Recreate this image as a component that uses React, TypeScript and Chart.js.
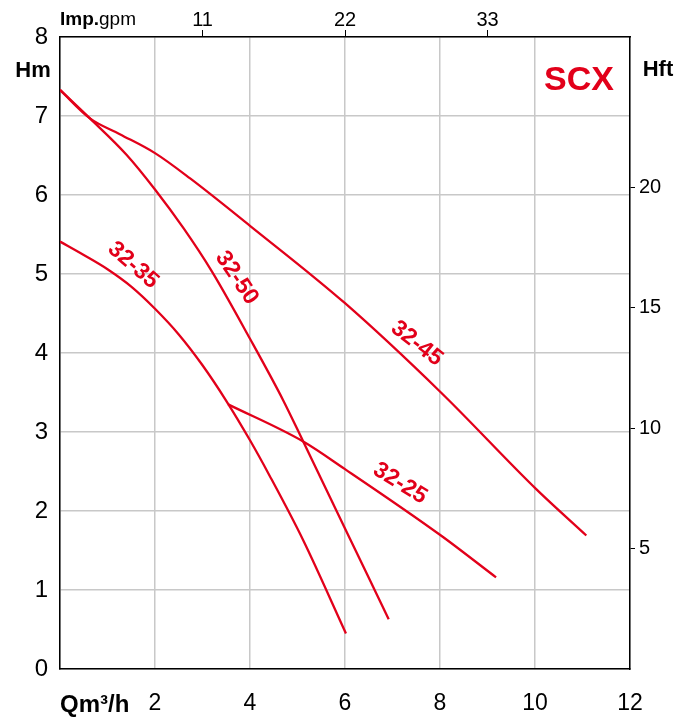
import React, { useEffect, useRef } from "react";
import { Chart, registerables } from "chart.js";

Chart.register(...registerables);

const FLOW_TICKS = [0, 2, 4, 6, 8, 10, 12];
const HEAD_TICKS = [0, 1, 2, 3, 4, 5, 6, 7, 8];
const GPM_TICKS = [11, 22, 33];
const FT_TICKS = [5, 10, 15, 20];
const GPM_PER_M3H = 3.66615;
const FT_PER_M = 3.28084;

const curve3245X = [0, 0.63, 1.26, 2.0, 2.74, 4.0, 6.0, 8.02, 10.02, 11.08];
const curve3245Y = [7.33, 6.97, 6.77, 6.53, 6.21, 5.61, 4.63, 3.5, 2.28, 1.69];

const curve3250X = [0, 0.63, 1.4, 2.0, 2.6, 3.2, 4.0, 4.7, 5.12, 6.0, 6.92];
const curve3250Y = [7.33, 6.97, 6.51, 6.07, 5.58, 5.03, 4.18, 3.4, 2.88, 1.78, 0.63];

const curve3235X = [0, 0.5, 1.0, 1.5, 2.0, 2.5, 3.0, 3.5, 4.0, 4.41, 5.12, 6.02];
const curve3235Y = [5.41, 5.24, 5.06, 4.84, 4.56, 4.235, 3.845, 3.395, 2.895, 2.45, 1.63, 0.45];

const curve3225X = [3.54, 5.12, 6.0, 8.02, 9.18];
const curve3225Y = [3.35, 2.88, 2.53, 1.69, 1.16];

const curveNames = ["32-45", "32-50", "32-35", "32-25"];
const labelX = [7.51, 3.72, 1.54, 7.16];
const labelY = [4.12, 4.95, 5.11, 2.35];
const labelAngle = [38, 56, 41, 32];

const RED = "#e2001a";
const FONT = "'Liberation Sans', Arial, sans-serif";

const toPoints = (xs: number[], ys: number[]) => xs.map((x, i) => ({ x, y: ys[i] }));

const textPlugin = {
  id: "textPlugin",
  afterDraw(chart: any) {
    const ctx = chart.ctx;
    const xs = chart.scales.x;
    const ys = chart.scales.y;
    const area = chart.chartArea;
    ctx.save();
    ctx.fillStyle = "#000";
    ctx.textBaseline = "middle";
    ctx.font = `bold 22px ${FONT}`;
    ctx.textAlign = "center";
    ctx.fillText("Hm", area.left - 27, 71);
    ctx.fillText("Hft", area.right + 28, 70);
    ctx.textBaseline = "alphabetic";
    ctx.textAlign = "left";
    ctx.font = `bold 19px ${FONT}`;
    ctx.fillText("Imp.", area.left, 25);
    const w = ctx.measureText("Imp.").width;
    ctx.font = `19px ${FONT}`;
    ctx.fillText("gpm", area.left + w, 25);
    ctx.font = `bold 24px ${FONT}`;
    ctx.fillText("Qm\u00b3/h", area.left, 712);
    ctx.fillStyle = RED;
    ctx.textAlign = "center";
    ctx.textBaseline = "middle";
    ctx.font = `bold 34px ${FONT}`;
    ctx.fillText("SCX", 579, 81);
    ctx.font = `bold 23px ${FONT}`;
    curveNames.forEach((name, i) => {
      const px = xs.getPixelForValue(labelX[i]);
      const py = ys.getPixelForValue(labelY[i]);
      ctx.save();
      ctx.translate(px, py);
      ctx.rotate((labelAngle[i] * Math.PI) / 180);
      ctx.fillText(name, 0, 0);
      ctx.restore();
    });
    ctx.restore();
  },
};

export default function App() {
  const ref = useRef<HTMLCanvasElement>(null);
  useEffect(() => {
    if (!ref.current) return;
    const ds = (xs: number[], ys: number[]) => ({
      data: toPoints(xs, ys),
      borderColor: RED,
      borderWidth: 2.3,
      pointRadius: 0,
      fill: false,
      cubicInterpolationMode: "monotone" as const,
      xAxisID: "x",
      yAxisID: "y",
    });
    const chart = new Chart(ref.current, {
      type: "line",
      data: {
        datasets: [
          ds(curve3245X, curve3245Y),
          ds(curve3250X, curve3250Y),
          ds(curve3235X, curve3235Y),
          ds(curve3225X, curve3225Y),
        ],
      },
      options: {
        responsive: false,
        animation: false,
        devicePixelRatio: 1,
        layout: { padding: 0 },
        plugins: { legend: { display: false }, tooltip: { enabled: false } },
        scales: {
          x: {
            type: "linear",
            position: "bottom",
            min: 0,
            max: 12,
            afterBuildTicks: (s: any) => {
              s.ticks = FLOW_TICKS.map((v) => ({ value: v }));
            },
            ticks: {
              callback: (v: any) => (v === 0 ? "" : String(v)),
              color: "#000",
              font: { size: 23, family: FONT },
              padding: 21,
              maxRotation: 0,
            },
            grid: { color: "#c8c8c8", lineWidth: 1.5, drawTicks: false },
            border: { color: "#000", width: 1.5 },
            afterFit: (s: any) => {
              s.height = 51;
            },
          },
          x2: {
            type: "linear",
            position: "top",
            min: 0,
            max: 12 * GPM_PER_M3H,
            afterBuildTicks: (s: any) => {
              s.ticks = GPM_TICKS.map((v) => ({ value: v }));
            },
            ticks: { color: "#000", font: { size: 20, family: FONT }, padding: -2, maxRotation: 0 },
            grid: { drawOnChartArea: false, drawTicks: true, tickLength: 7, color: "#000", lineWidth: 1 },
            border: { color: "#000", width: 1.5 },
            afterFit: (s: any) => {
              s.height = 37;
            },
          },
          y: {
            type: "linear",
            position: "left",
            min: 0,
            max: 8,
            afterBuildTicks: (s: any) => {
              s.ticks = HEAD_TICKS.map((v) => ({ value: v }));
            },
            ticks: { color: "#000", font: { size: 24, family: FONT }, padding: 12 },
            grid: { color: "#c8c8c8", lineWidth: 1.5, drawTicks: false },
            border: { color: "#000", width: 1.5 },
            afterFit: (s: any) => {
              s.width = 60;
            },
          },
          y2: {
            type: "linear",
            position: "right",
            min: 0,
            max: 8 * FT_PER_M,
            afterBuildTicks: (s: any) => {
              s.ticks = FT_TICKS.map((v) => ({ value: v }));
            },
            ticks: { color: "#000", font: { size: 20, family: FONT }, padding: 4 },
            grid: { drawOnChartArea: false, drawTicks: true, tickLength: 5, color: "#000", lineWidth: 1 },
            border: { color: "#000", width: 1.5 },
            afterFit: (s: any) => {
              s.width = 61;
            },
          },
        },
      },
      plugins: [textPlugin],
    });
    return () => chart.destroy();
  }, []);
  return (
    <div style={{ position: "absolute", left: 0, top: 0, width: 691, height: 720, background: "#fff" }}>
      <canvas ref={ref} width={691} height={720} style={{ display: "block" }} />
    </div>
  );
}
